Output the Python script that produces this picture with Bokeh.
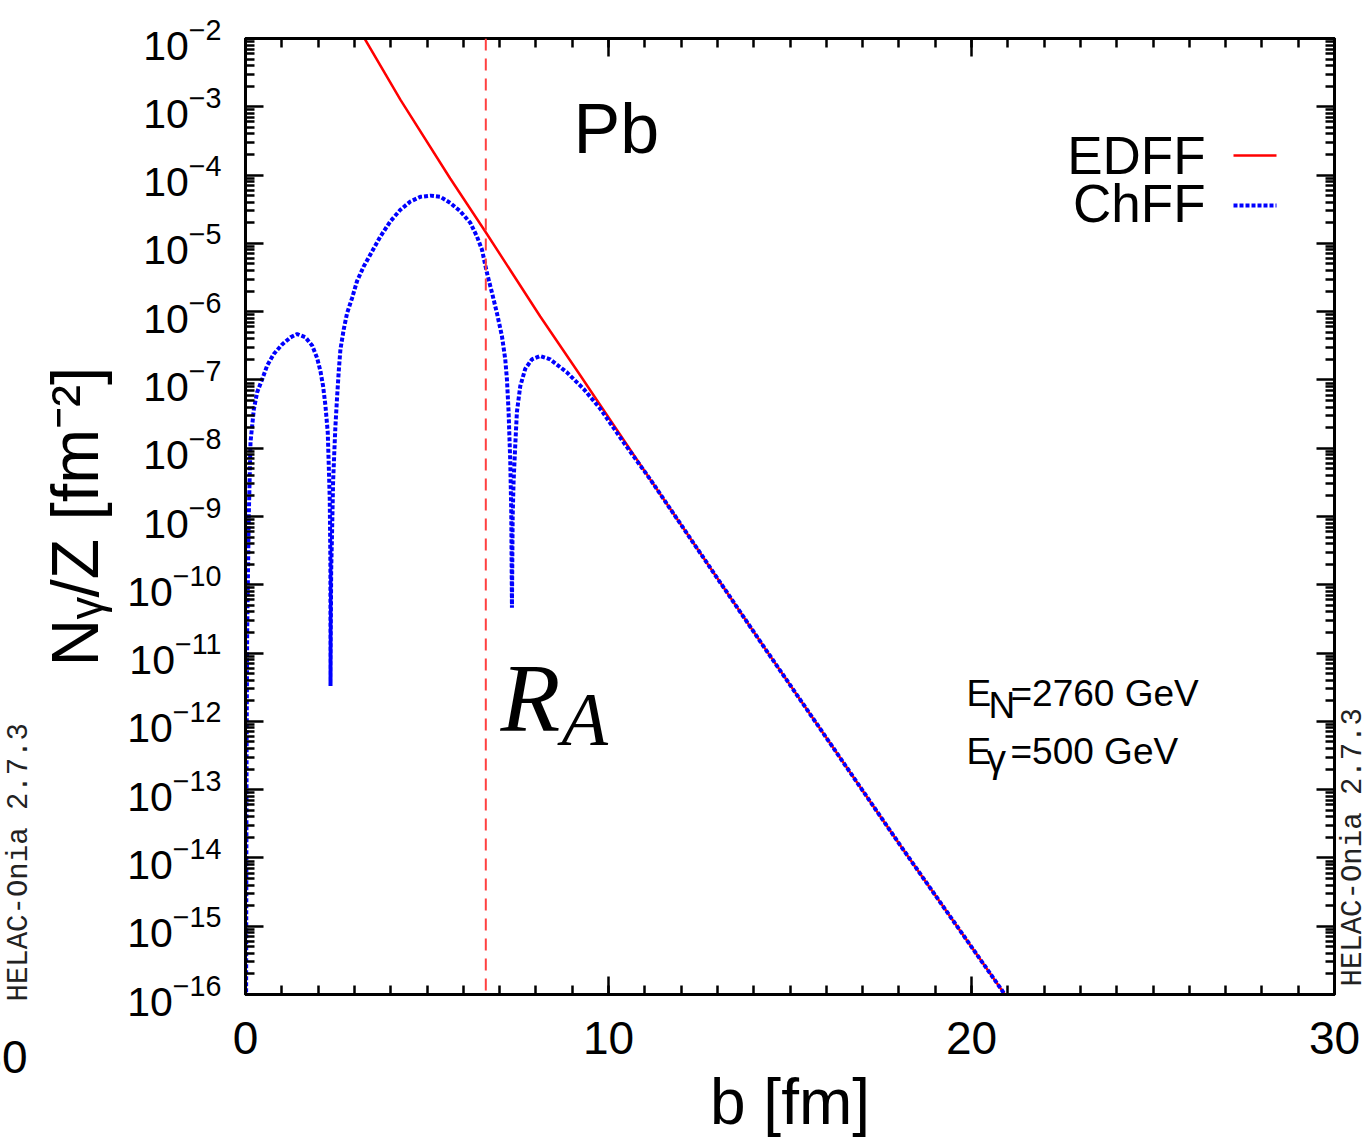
import math

from bokeh.plotting import figure
from bokeh.core.properties import value
from bokeh.models import (Range1d, LogAxis, LinearAxis, FixedTicker, SingleIntervalTicker,
                          LogTickFormatter, CustomJSTickFormatter, Label, Span, Arrow, Title)
from bokeh.embed import file_html
from bokeh.resources import INLINE

# Impact parameter b [fm] and photon number density per unit charge N_gamma/Z [fm^-2]
# EDFF: electric-dipole form factor
b_edff = [3.28, 4.27, 5.64, 6.61, 8.12, 9.22, 9.77, 11.15, 14.31, 18.03, 20.92]
n_edff = [1.0e-2, 1.26e-3, 8.9e-5, 1.48e-5, 8.5e-7, 1.17e-7, 4.3e-8, 3.5e-9, 1.17e-11,
          1.55e-14, 1.0e-16]

# ChFF: charge form factor
b_chff = [0.015, 0.03, 0.046, 0.09, 0.138, 0.229, 0.321, 0.459, 0.596, 0.78, 1.009, 1.239,
          1.422, 1.651, 1.835, 1.972, 2.064, 2.138, 2.202, 2.266, 2.294, 2.321, 2.339, 2.342,
          2.36, 2.385, 2.413, 2.45, 2.477, 2.523, 2.569, 2.615, 2.706, 2.798, 2.936, 3.073,
          3.257, 3.486, 3.716, 3.991, 4.266, 4.541, 4.817, 5.092, 5.367, 5.642, 5.917, 6.193,
          6.376, 6.514, 6.651, 6.789, 6.927, 7.064, 7.156, 7.202, 7.248, 7.294, 7.321, 7.34,
          7.36, 7.385, 7.431, 7.477, 7.569, 7.706, 7.89, 8.119, 8.394, 8.853, 9.312, 9.771,
          10.41, 11.15, 14.31, 18.03, 20.92]
n_chff = [3.2e-17, 3.2e-13, 2.0e-11, 1.0e-9, 1.23e-8, 3.7e-8, 6.6e-8, 1.02e-7, 1.62e-7,
          2.4e-7, 3.3e-7, 4.2e-7, 4.7e-7, 4.2e-7, 3.2e-7, 2.1e-7, 1.35e-7, 8.1e-8, 4.2e-8,
          1.7e-8, 5.6e-9, 1.8e-9, 1.95e-10, 3.3e-12, 1.6e-10, 6.0e-10, 3.2e-9, 9.8e-9,
          2.1e-8, 5.6e-8, 1.35e-7, 2.8e-7, 5.5e-7, 9.5e-7, 1.58e-6, 2.8e-6, 4.6e-6, 7.6e-6,
          1.26e-5, 2.1e-5, 3.1e-5, 4.1e-5, 4.8e-5, 5.0e-5, 4.8e-5, 3.9e-5, 2.95e-5, 2.0e-5,
          1.26e-5, 8.1e-6, 3.7e-6, 1.9e-6, 9.5e-7, 4.4e-7, 2.0e-7, 1.02e-7, 3.4e-8, 6.3e-9,
          1.17e-9, 4.6e-11, 1.0e-9, 3.2e-9, 1.1e-8, 3.4e-8, 8.1e-8, 1.45e-7, 2.0e-7,
          2.24e-7, 2.0e-7, 1.29e-7, 7.4e-8, 3.8e-8, 1.23e-8, 3.5e-9, 1.17e-11, 1.55e-14,
          1.0e-16]

# Nuclear radius of Pb [fm]
r_a = 6.62

x_major = 10
y_decades = list(range(-16, -1))

SANS = "Liberation Sans"
MONO = "Liberation Mono"
W, H = 1370, 1140
FL, FR, FT, FB = 245, 1334, 38, 998   # frame edges on the canvas
BASE = 0.36                           # alphabetic-baseline shift of text, per px of size

p = figure(width=W, height=H, x_range=Range1d(0, 30), y_range=Range1d(1e-16, 1e-2),
           y_axis_type="log", output_backend="svg", toolbar_location=None,
           min_border_left=FL, min_border_right=W - FR, min_border_top=FT,
           min_border_bottom=H - FB, background_fill_color="white",
           border_fill_color="white")
p.grid.visible = False
p.outline_line_color = "black"
p.outline_line_width = 3

xt = SingleIntervalTicker(interval=x_major, num_minor_ticks=10)
yt = FixedTicker(ticks=[10.0 ** e for e in y_decades],
                 minor_ticks=[m * 10.0 ** e for e in y_decades[:-1] for m in range(2, 10)])
blank = CustomJSTickFormatter(code="return ''")

x_axis = p.below[0]
y_axis = p.left[0]
x_axis.ticker = xt
y_axis.ticker = yt
y_axis.formatter = LogTickFormatter(min_exponent=0)
y_mirror = LogAxis(ticker=yt, formatter=blank, major_label_standoff=0)
x_mirror = LinearAxis(ticker=xt, formatter=blank, major_label_standoff=0)
p.add_layout(y_mirror, "right")
p.add_layout(x_mirror, "above")

for ax in (x_axis, y_axis, x_mirror, y_mirror):
    ax.axis_line_width = 3
    ax.major_tick_in = 18
    ax.major_tick_out = 0
    ax.minor_tick_in = 9
    ax.minor_tick_out = 0
    ax.major_tick_line_width = 2.5
    ax.minor_tick_line_width = 2.5
    ax.major_label_text_font = SANS
    ax.major_label_text_color = "black"
    ax.axis_label_text_font = SANS
    ax.axis_label_text_font_style = "normal"
    ax.axis_label_text_color = "black"

y_axis.major_label_text_font_size = "41px"
y_axis.major_label_standoff = 24
y_axis.axis_label = "N\u1d67/Z [fm\u207b\u00b2]"
y_axis.axis_label_text_font_size = "66px"
y_axis.axis_label_standoff = 12

x_axis.major_label_text_font_size = "46px"
x_axis.major_label_standoff = 27
x_axis.axis_label = "b [fm]"
x_axis.axis_label_text_font_size = "64px"
x_axis.axis_label_standoff = 9

# program tag along the left edge
p.add_layout(Title(text="HELAC-Onia 2.7.3", align="left", offset=-7, standoff=0,
                   text_font=MONO, text_font_size="29px", text_font_style="normal",
                   text_color="#222222"), "left")

# curves
p.line(b_edff, n_edff, line_color="#ff0000", line_width=2.5)
p.line(b_chff, n_chff, line_color="#0000ff", line_width=4, line_dash="4 2")
p.add_layout(Span(location=r_a, dimension="height", line_color="#ff4040",
                  line_width=2, line_dash="12 8"))


def put(text, cx, cy, size, align="left", font=SANS, style="normal", color="black"):
    """Text whose baseline starts at canvas pixel (cx, cy), measured from the top-left."""
    p.add_layout(Label(x=cx - FL, y=FB - (cy - BASE * size), x_units="screen",
                       y_units="screen", text=text, text_font=font,
                       text_font_size=f"{size}px", text_align=align,
                       text_baseline="alphabetic", text_font_style=style,
                       text_color=color))


def outside(text, cx, cy, size, angle=0.0, align="left", baseline="middle",
            font=SANS, color="black", right=False):
    """Text in the margins, anchored at canvas pixel (cx, cy) relative to a frame corner."""
    x0, dx = (30, cx - FR) if right else (0, cx - FL)
    if baseline == "alphabetic":
        cy -= BASE * size
    p.text(x=[x0], y=[1e-16], text=[text], x_offset=dx, y_offset=cy - FB,
           angle=angle, text_font=value(font), text_font_size=value(f"{size}px"),
           text_align=align, text_baseline=baseline, text_color=color, level="overlay")


def key(cx0, cx1, cy, **line):
    p.add_layout(Arrow(end=None, x_start=cx0 - FL, y_start=FB - cy, x_end=cx1 - FL,
                       y_end=FB - cy, start_units="screen", end_units="screen", **line))


# nucleus and legend
put("Pb", 573, 158, 70)
put("EDFF", 1205, 178, 53, align="right")
put("ChFF", 1205, 226, 53, align="right")
key(1233, 1276, 159, line_color="#ff0000", line_width=2.5)
key(1233, 1276, 209, line_color="#0000ff", line_width=4, line_dash="4 2")

# R_A marker
put("R", 500, 737, 98, font="Liberation Serif", style="italic")
put("A", 561, 750, 76, font="Liberation Serif", style="italic")

# beam energies
put("E", 966, 710, 37)
put("N", 988, 722, 37)
put("=2760 GeV", 1010, 710, 37)
put("E", 966, 768, 37)
put("\u03b3", 986, 776, 39)
put("=500 GeV", 1010, 768, 37)

# program tag on the right edge, and the clipped tick label of a neighbouring panel
outside("HELAC-Onia 2.7.3", 1353, 990, 29, angle=math.pi / 2, font=MONO,
        color="#222222", right=True)
outside("30", 27, 1077, 46, align="right", baseline="alphabetic")

open("out.html", "w").write(file_html(p, INLINE))
